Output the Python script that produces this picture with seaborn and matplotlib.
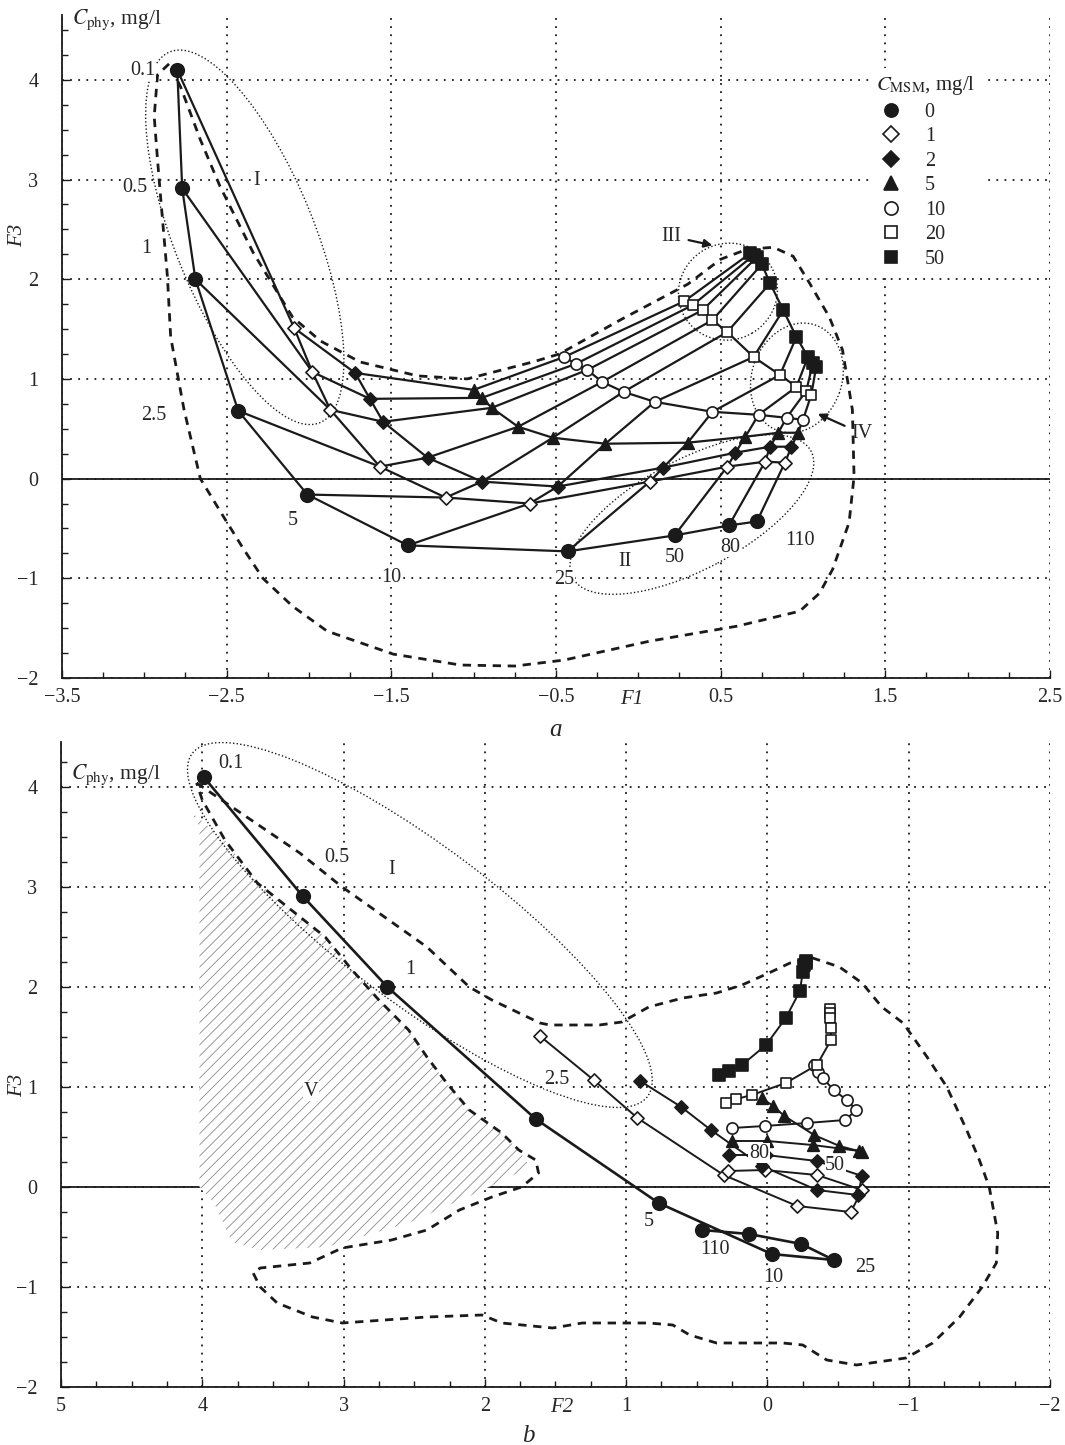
import numpy as np
import pandas as pd
import matplotlib
matplotlib.use("Agg")
import matplotlib.pyplot as plt
import seaborn as sns
from matplotlib.patches import Ellipse, Polygon
from matplotlib.lines import Line2D
from matplotlib.transforms import Affine2D

sns.set_theme(style="white")
plt.rcParams["font.family"] = ["Liberation Serif", "DejaVu Serif"]
plt.rcParams["mathtext.fontset"] = "stix"
plt.rcParams["hatch.linewidth"] = 0.6

# phytoplankton and MSM concentrations, mg/l
c_phy = [0.1, 0.5, 1, 2.5, 5, 10, 25, 50, 80, 110]
c_msm = [0, 1, 2, 5, 10, 20, 50]

# F3 (shared by both panels), one list per C_MSM, ordered by c_phy
f3_m0 = [4.10, 2.91, 2.00, 0.68, -0.16, -0.67, -0.73, -0.57, -0.47, -0.43]
f3_m1 = [1.51, 1.07, 0.69, 0.12, -0.19, -0.25, -0.03, 0.12, 0.17, 0.16]
f3_m2 = [1.06, 0.80, 0.57, 0.21, -0.03, -0.08, 0.11, 0.26, 0.32, 0.32]
f3_m5 = [0.89, 0.81, 0.71, 0.52, 0.41, 0.35, 0.36, 0.42, 0.46, 0.46]
f3_m10 = [1.22, 1.15, 1.09, 0.97, 0.87, 0.77, 0.67, 0.64, 0.61, 0.59]
f3_m20 = [1.78, 1.74, 1.69, 1.59, 1.47, 1.22, 1.04, 0.92, 0.88, 0.84]
f3_m50 = [2.26, 2.24, 2.22, 2.15, 1.96, 1.69, 1.42, 1.22, 1.16, 1.12]

# F1 (panel a)
f1_m0 = [-2.80, -2.77, -2.69, -2.43, -2.01, -1.40, -0.43, 0.22, 0.55, 0.72]
f1_m1 = [-2.09, -1.98, -1.87, -1.57, -1.17, -0.66, 0.07, 0.54, 0.77, 0.89]
f1_m2 = [-1.72, -1.63, -1.55, -1.28, -0.95, -0.49, 0.15, 0.59, 0.80, 0.93]
f1_m5 = [-1.00, -0.95, -0.89, -0.73, -0.52, -0.20, 0.30, 0.65, 0.85, 0.97]
f1_m10 = [-0.45, -0.38, -0.31, -0.22, -0.09, 0.10, 0.45, 0.73, 0.90, 1.00]
f1_m20 = [0.28, 0.33, 0.39, 0.45, 0.54, 0.70, 0.86, 0.96, 1.02, 1.05]
f1_m50 = [0.68, 0.70, 0.72, 0.75, 0.80, 0.88, 0.96, 1.03, 1.06, 1.08]

# F2 (panel b)
f2_m0 = [3.99, 3.29, 2.69, 1.64, 0.77, -0.03, -0.47, -0.24, 0.13, 0.46]
f2_m1 = [1.61, 1.23, 0.92, 0.31, -0.21, -0.59, -0.67, -0.35, 0.02, 0.28]
f2_m2 = [0.90, 0.61, 0.40, 0.04, -0.35, -0.64, -0.67, -0.35, 0.01, 0.27]
f2_m5 = [0.04, -0.04, -0.12, -0.33, -0.51, -0.67, -0.65, -0.32, 0.00, 0.25]
f2_m10 = [-0.33, -0.36, -0.39, -0.47, -0.56, -0.63, -0.55, -0.28, 0.02, 0.25]
f2_m20 = [-0.44, -0.44, -0.44, -0.45, -0.45, -0.35, -0.13, 0.11, 0.22, 0.29]
f2_m50 = [-0.27, -0.27, -0.26, -0.25, -0.23, -0.13, 0.01, 0.18, 0.27, 0.34]

# dashed envelope, panel a
env_a_f1 = [-2.85, -2.92, -2.94, -2.92, -2.90, -2.86, -2.84, -2.76, -2.66, -2.52, -2.40, -2.28,
            -2.10, -1.89, -1.49, -1.08, -0.75, -0.45, 0.07, 0.60, 0.98, 1.10, 1.18, 1.28, 1.31,
            1.30, 1.24, 1.16, 1.04, 0.94, 0.82, 0.66, 0.50, 0.30, -0.10, -0.48, -0.64, -1.04,
            -1.34, -1.69, -1.93, -2.10, -2.34, -2.54, -2.66, -2.78, -2.85]
env_a_f3 = [4.16, 4.05, 3.63, 3.20, 2.80, 2.03, 1.42, 0.70, 0.00, -0.38, -0.70, -1.00,
            -1.28, -1.53, -1.76, -1.87, -1.88, -1.82, -1.63, -1.48, -1.33, -1.15, -0.91, -0.44, 0.02,
            0.69, 1.29, 1.62, 1.96, 2.23, 2.32, 2.30, 2.20, 1.95, 1.60, 1.25, 1.17, 1.00,
            1.03, 1.17, 1.38, 1.62, 2.27, 2.93, 3.40, 3.93, 4.16]

# dashed envelope, panel b
env_b_f2 = [4.04, 3.31, 3.01, 2.41, 2.11, 1.95, 1.61, 1.54, 1.19, 1.03, 0.84, 0.60, 0.36, 0.18,
            -0.01, -0.16, -0.32, -0.51, -0.67, -0.81, -0.96, -1.13, -1.27, -1.41, -1.50, -1.57,
            -1.63, -1.62, -1.52, -1.36, -1.17, -0.98, -0.63, -0.42, -0.25, -0.11, 0.36, 0.55,
            0.67, 0.84, 1.31, 1.52, 1.88, 2.02, 2.41, 3.01, 3.22, 3.47, 3.59, 3.64, 3.59, 3.24,
            3.01, 2.66, 2.41, 2.18, 1.95, 1.74, 1.62, 1.64, 1.76, 1.88, 2.11, 2.27, 2.41, 2.54,
            2.75, 2.94, 3.13, 3.37, 3.61, 3.84, 4.00, 4.04]
env_b_f3 = [4.04, 3.34, 3.00, 2.40, 2.00, 1.87, 1.64, 1.62, 1.62, 1.65, 1.80, 1.89, 1.94, 2.02,
            2.14, 2.24, 2.29, 2.20, 2.04, 1.80, 1.64, 1.30, 1.00, 0.57, 0.27, 0.00,
            -0.46, -0.76, -1.00, -1.30, -1.56, -1.71, -1.78, -1.73, -1.58, -1.56, -1.56, -1.48,
            -1.38, -1.36, -1.36, -1.41, -1.36, -1.28, -1.30, -1.36, -1.30, -1.16, -1.00, -0.86, -0.81, -0.76,
            -0.61, -0.53, -0.43, -0.23, -0.10, 0.00, 0.14, 0.27, 0.37, 0.54, 0.77, 1.04, 1.30, 1.57,
            1.87, 2.17, 2.50, 2.77, 3.04, 3.47, 3.87, 4.04]

# hatched region V, panel b
hatch_f2 = [4.08, 3.84, 3.61, 3.37, 3.13, 2.94, 2.75, 2.54, 2.41, 2.27, 2.11, 1.88, 1.76, 1.68,
            2.06, 2.54, 3.12, 3.59, 3.79, 3.92, 4.02, 4.02]
hatch_f3 = [3.75, 3.47, 3.04, 2.77, 2.50, 2.17, 1.87, 1.57, 1.30, 1.04, 0.77, 0.54, 0.37, 0.20,
            -0.06, -0.36, -0.60, -0.63, -0.55, -0.15, 0.00, 3.60]

f1_all = [f1_m0, f1_m1, f1_m2, f1_m5, f1_m10, f1_m20, f1_m50]
f2_all = [f2_m0, f2_m1, f2_m2, f2_m5, f2_m10, f2_m20, f2_m50]
f3_all = [f3_m0, f3_m1, f3_m2, f3_m5, f3_m10, f3_m20, f3_m50]

rows = []
for m, a1, a2, a3 in zip(c_msm, f1_all, f2_all, f3_all):
    for p, x1, x2, y in zip(c_phy, a1, a2, a3):
        rows.append((m, p, x1, x2, y))
df = pd.DataFrame(rows, columns=["msm", "phy", "F1", "F2", "F3"])

marks = {0: ("o", "k", 95), 1: ("D", "w", 45), 2: ("D", "k", 45), 5: ("^", "k", 70),
         10: ("o", "w", 65), 20: ("s", "w", 60), 50: ("s", "k", 65)}

W, H = 1065, 1445
fig = plt.figure(figsize=(W / 100, H / 100), dpi=100)
pos_a = [62 / W, 1 - 678 / H, 988 / W, 663 / H]
pos_b = [61 / W, 1 - 1387 / H, 989 / W, 645 / H]
ax_a = fig.add_axes(pos_a)
ax_b = fig.add_axes(pos_b)

dot = (0, (1, 3.5))
fine = (0, (1, 1.6))
dash = (0, (3, 2.4))


def style_axes(ax, xlim, ylim, xmaj, xmin):
    ax.set_xlim(*xlim)
    ax.set_ylim(*ylim)
    ax.set_xticks(xmaj)
    ax.set_xticks(xmin, minor=True)
    ax.set_yticks([-2, -1, 0, 1, 2, 3, 4])
    ax.set_yticks(np.arange(-2, ylim[1], 0.25), minor=True)
    ax.set_axisbelow(True)
    ax.grid(True, which="major", color="k", ls=dot, lw=1.3)
    ax.axhline(0, color="k", lw=1.3, zorder=0.8)
    for s in ["top", "right"]:
        ax.spines[s].set_visible(False)
    for s in ["left", "bottom"]:
        ax.spines[s].set_color("k")
        ax.spines[s].set_linewidth(1.3)
    ax.tick_params(which="both", direction="in", color="k", width=1, bottom=True, left=True)
    ax.tick_params(which="major", length=6, labelsize=14.5)
    ax.tick_params(which="minor", length=4)
    ax.tick_params(axis="x", pad=7)
    ax.tick_params(axis="y", pad=17)
    ax.set_xlabel("")
    ax.set_ylabel("")


def ring(ax, pos, xlim, ylim, cx, cy, w, h, ang):
    sx = pos[2] * W / (xlim[1] - xlim[0])
    sy = pos[3] * H / (ylim[1] - ylim[0])
    tr = Affine2D().scale(1 / sx, 1 / sy).translate(cx, cy) + ax.transData
    ax.add_patch(Ellipse((0, 0), w, h, angle=ang, transform=tr, fill=False,
                         ec="k", lw=1.0, ls=fine, zorder=2))


def label(ax, x, y, s, size=14.5):
    ax.text(x, y, s, ha="center", va="center", fontsize=size, zorder=6,
            bbox=dict(fc="white", ec="none", pad=0.5))


# ---------------- panel a ----------------
xa, ya = (-3.5, 2.5), (-2, 4.65)
style_axes(ax_a, xa, ya, np.arange(-3.5, 2.6, 1.0), np.arange(-3.5, 2.51, 0.25))

ax_a.plot(env_a_f1, env_a_f3, color="k", lw=2.0, ls=dash, zorder=2)
ring(ax_a, pos_a, xa, ya, -2.39, 2.42, 400, 140, -68)
ring(ax_a, pos_a, xa, ya, 0.544, 1.875, 100, 96, 30)
ring(ax_a, pos_a, xa, ya, 0.963, 1.01, 112, 90, 70)
ring(ax_a, pos_a, xa, ya, 0.325, -0.36, 270, 110, 28)

sns.lineplot(data=df, x="F1", y="F3", units="msm", estimator=None, sort=False,
             color="k", lw=1.6, ax=ax_a, zorder=3)
sns.lineplot(data=df.sort_values(["phy", "msm"]), x="F1", y="F3", units="phy",
             estimator=None, sort=False, color="k", lw=1.6, ax=ax_a, zorder=3)
for m in c_msm:
    mk, fc, s = marks[m]
    sub = df[df.msm == m]
    sns.scatterplot(x=sub.F1, y=sub.F3, marker=mk, s=s, color=fc, edgecolor="k",
                    linewidth=1.2, ax=ax_a, zorder=4)
ax_a.set_xlabel("")
ax_a.set_ylabel("")

for x, y, s in [(-3.01, 4.09, "0.1"), (-3.06, 2.92, "0.5"), (-2.99, 2.31, "1"),
                (-2.94, 0.63, "2.5"), (-2.10, -0.42, "5"), (-1.50, -0.99, "10"),
                (-0.45, -1.01, "25"), (-0.08, -0.83, "II"), (0.22, -0.79, "50"),
                (0.56, -0.69, "80"), (0.98, -0.62, "110"), (-2.32, 2.99, "I")]:
    label(ax_a, x, y, s)
ax_a.annotate("III", xy=(0.45, 2.34), xytext=(0.20, 2.43), ha="center", va="center",
              fontsize=14.5, zorder=6,
              arrowprops=dict(arrowstyle="-|>", color="k", lw=1.6, mutation_scale=12,
                              shrinkA=3, shrinkB=0))
ax_a.annotate("IV", xy=(1.09, 0.65), xytext=(1.36, 0.45), ha="center", va="center",
              fontsize=14.5, zorder=6,
              arrowprops=dict(arrowstyle="-|>", color="k", lw=1.6, mutation_scale=12,
                              shrinkA=3, shrinkB=0))
ax_a.text(-3.44, 4.60, r"$C_{\rm phy}$, mg/l", ha="left", va="center", fontsize=15.5,
          clip_on=False, zorder=6)

handles = [Line2D([], [], ls="none", marker=marks[m][0], mfc=marks[m][1], mec="k",
                  mew=1.2, ms=9.5 if marks[m][0] in "o^" else 8) for m in c_msm]
leg = ax_a.legend(handles, [str(m) for m in c_msm], title=r"$C_{\rm MSM}$, mg/l",
                  loc="upper left", bbox_to_anchor=(0.808, 0.935), fontsize=14.5,
                  title_fontsize=15, labelspacing=0.27, handletextpad=1.0,
                  handlelength=1.4, borderpad=0.3, frameon=True, framealpha=1,
                  alignment="left")
leg.get_frame().set_edgecolor("none")
leg.get_frame().set_facecolor("white")
leg.set_zorder(7)

# ---------------- panel b ----------------
xb, yb = (5, -2), (-2, 4.45)
style_axes(ax_b, xb, yb, np.arange(5, -2.1, -1.0), np.arange(5, -2.01, -0.25))

ax_b.add_patch(Polygon(np.column_stack([hatch_f2, hatch_f3]), closed=True, fc="white",
                       ec="#8c8c8c", lw=0, hatch="///", zorder=1))
ax_b.plot(env_b_f2, env_b_f3, color="k", lw=2.0, ls=dash, zorder=2)
ring(ax_b, pos_b, xb, yb, 2.46, 2.62, 570, 156, -37)

sns.lineplot(data=df[df.msm > 0], x="F2", y="F3", units="msm", estimator=None, sort=False,
             color="k", lw=1.4, ax=ax_b, zorder=3)
sns.lineplot(data=df[df.msm == 0], x="F2", y="F3", estimator=None, sort=False,
             color="k", lw=1.9, ax=ax_b, zorder=3)
for m in c_msm:
    mk, fc, s = marks[m]
    sub = df[df.msm == m]
    sns.scatterplot(x=sub.F2, y=sub.F3, marker=mk, s=s, color=fc, edgecolor="k",
                    linewidth=1.2, ax=ax_b, zorder=4)
ax_b.set_xlabel("")
ax_b.set_ylabel("")

for x, y, s in [(3.80, 4.24, "0.1"), (3.05, 3.30, "0.5"), (2.66, 3.18, "I"),
                (2.53, 2.17, "1"), (1.49, 1.08, "2.5"), (3.23, 0.96, "V"),
                (0.84, -0.34, "5"), (0.06, 0.34, "80"), (-0.48, 0.22, "50"),
                (0.37, -0.62, "110"), (-0.04, -0.90, "10"), (-0.69, -0.81, "25")]:
    label(ax_b, x, y, s)
ax_b.text(4.93, 4.12, r"$C_{\rm phy}$, mg/l", ha="left", va="center", fontsize=15.5,
          clip_on=False, zorder=6)


def ftext(x, y, s, **kw):
    fig.text(x / W, 1 - y / H, s, ha="center", va="center", **kw)


ftext(18, 235, "F3", rotation=90, style="italic", fontsize=15)
ftext(18, 1085, "F3", rotation=90, style="italic", fontsize=15)
ftext(632, 700, "F1", style="italic", fontsize=15)
ftext(562, 1408, "F2", style="italic", fontsize=15)
ftext(555, 730, "a", style="italic", fontsize=18)
ftext(528, 1436, "b", style="italic", fontsize=18)

fig.savefig("out.png", dpi=100)
